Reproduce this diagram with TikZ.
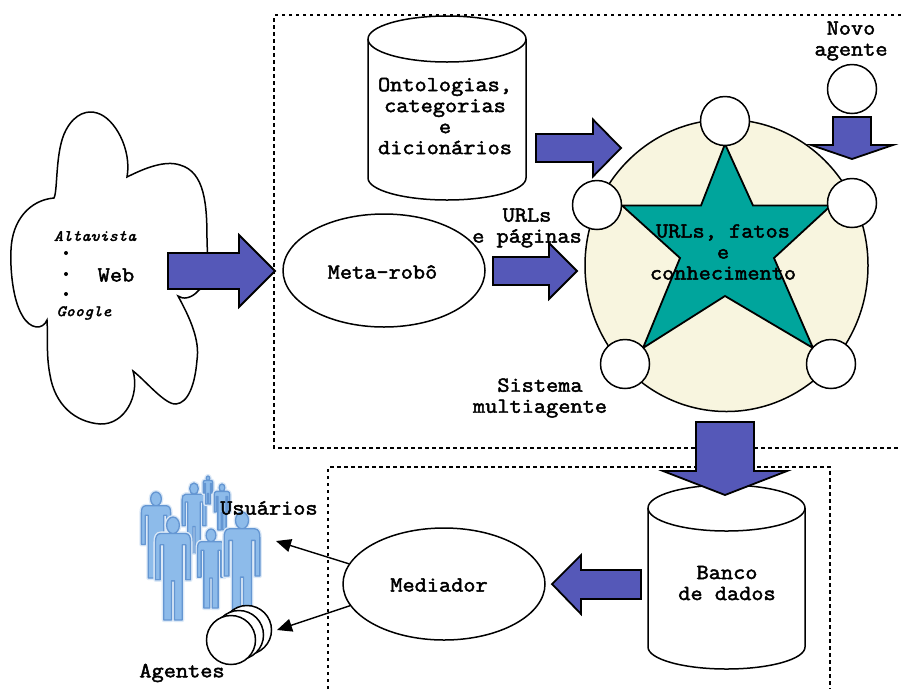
\documentclass[tikz,border=0pt]{standalone}
\usepackage{fontspec}
\setmonofont[FakeBold=2.2,FakeStretch=1.1]{Latin Modern Mono}
\usetikzlibrary{arrows.meta,shapes.geometric}
\definecolor{blockblue}{HTML}{5558B8}
\definecolor{cream}{HTML}{F8F5DF}
\definecolor{tealstar}{HTML}{00A59C}
\definecolor{personfill}{HTML}{8DBBEA}
\definecolor{personline}{HTML}{6496D2}
\definecolor{personhalo}{HTML}{DCE9F7}
\tikzset{
  line/.style={draw=black,line width=1.5pt},
  block/.style={draw=black,line width=1.8pt,fill=blockblue,miter limit=10},
  agentc/.style={circle,draw=black,line width=1.5pt,fill=white,minimum size=49pt,inner sep=0pt},
  oval/.style={ellipse,draw=black,line width=1.5pt,fill=white,inner sep=0pt},
  lab/.style={font=\ttfamily\fontsize{21.5}{21}\selectfont,align=center,inner sep=0pt},
  smalllab/.style={font=\ttfamily\itshape\fontsize{15.8}{18}\selectfont,inner sep=0pt},
  dbox/.style={draw=black,line width=1.6pt,dash pattern=on 3.5pt off 3.5pt},
  conn/.style={draw=black,line width=1.4pt,-{Triangle[length=15pt,width=13pt]}},
  bodyshape/.style={line join=round,line width=1.3pt,draw=personline,fill=personfill}
}
\newcommand{\rblock}[6]{\path[block] (#1,#4-#5) -- (#3,#4-#5) -- (#3,#4-#6) -- (#2,#4) -- (#3,#4+#6) -- (#3,#4+#5) -- (#1,#4+#5) -- cycle;}
\newcommand{\dblock}[6]{\path[block] (#4-#5,#1) -- (#4-#5,#3) -- (#4-#6,#3) -- (#4,#2) -- (#4+#6,#3) -- (#4+#5,#3) -- (#4+#5,#1) -- cycle;}
\newcommand{\cyl}[4]{\path[line,fill=white] (#1-#2,#3) -- (#1-#2,#4) arc[start angle=180,end angle=0,x radius=#2,y radius=22] -- (#1+#2,#3) arc[start angle=0,end angle=-180,x radius=#2,y radius=23] -- cycle;
 \path[line] (#1-#2,#3) arc[start angle=180,end angle=0,x radius=#2,y radius=23];}
\newcommand{\personpath}{(-.06,.16) -- (-.12,.16) .. controls (-.16,.16) and (-.17,.2) .. (-.17,.24) -- (-.17,.61) -- (-.125,.61) -- (-.125,.27) -- (-.09,.27) -- (-.09,1) -- (-.015,1) -- (-.015,.62) -- (.015,.62) -- (.015,1) -- (.09,1) -- (.09,.27) -- (.125,.27) -- (.125,.61) -- (.17,.61) -- (.17,.24) .. controls (.17,.2) and (.16,.16) .. (.12,.16) -- (.06,.16) -- cycle (0,.08) ellipse[x radius=.062,y radius=.08]}
\newcommand{\person}[3]{\begin{scope}[shift={(#1,#2)},x=#3pt,y=-#3pt]
 \path[draw=personhalo,line width=4pt,line join=round] \personpath;
 \path[bodyshape] \personpath;
 \end{scope}}
\begin{document}
\begin{tikzpicture}[x=1pt,y=-1pt]
\useasboundingbox (0,0) rectangle (901,689);
\fill[white] (0,0) rectangle (901,689);
% dashed frames
\draw[dbox] (901,15) -- (274,15) -- (274,448) -- (901,448);
\draw[dbox] (328,689) -- (328,467) -- (830,467) -- (830,689);
% cloud
\path[line,fill=white] (54,198) .. controls (58,190) and (55,150) .. (66,130)
 .. controls (75,113) and (88,110) .. (97,113)
 .. controls (115,118) and (132,150) .. (127,177)
 .. controls (145,168) and (165,160) .. (180,165)
 .. controls (205,172) and (207,205) .. (207,240)
 .. controls (208,265) and (208,285) .. (198,291)
 .. controls (192,298) and (183,300) .. (178,296)
 .. controls (190,318) and (200,340) .. (197,360)
 .. controls (195,385) and (188,403) .. (176,404)
 .. controls (165,405) and (145,380) .. (133,371)
 .. controls (140,395) and (125,425) .. (100,424)
 .. controls (75,422) and (55,405) .. (50,375)
 .. controls (46,355) and (48,335) .. (47,320)
 .. controls (43,330) and (30,330) .. (22,315)
 .. controls (13,300) and (10,270) .. (11,250)
 .. controls (12,220) and (30,200) .. (54,198) -- cycle;
\node[smalllab] (alta) at (95,236) {Altavista};
\node[smalllab] (goog) at (84,313) {Google};
\node[lab] (web) at (116,275) {Web};
\foreach \yy in {253,274,294} \fill (66,\yy) circle[radius=2];
\rblock{168}{275}{239}{271}{18}{36}
% ontology cylinder
\cyl{447}{79}{39}{178}
\node[lab] (ont) at (445,116) {Ontologias,\\categorias\\e\\dicionários};
\rblock{536}{621}{593}{148}{14}{28.5}
% meta-robot
\node[oval,minimum width=202pt,minimum height=113pt] (meta) at (384,270.5) {};
\node[lab] at (382.5,272) {Meta-robô};
\node[lab] (urls) at (527,228) {URLs\\e páginas};
\rblock{493}{577}{549}{271}{14}{28}
% multi-agent
\node[ellipse,draw=black,line width=1.5pt,fill=cream,minimum width=283pt,minimum height=292pt,inner sep=0pt] (mas) at (726.5,265.5) {};
\path[draw=black,line width=1.8pt,fill=tealstar,miter limit=10] (725,144) -- (753,205.5) -- (831,205.5) -- (774,258) -- (813,348) -- (725,296) -- (643,348) -- (680,258) -- (622,205.5) -- (701,205.5) -- cycle;
\node[lab] (know) at (723,252) {URLs, fatos\\e\\conhecimento};
\node[agentc] (a1) at (725,121) {};
\node[agentc] (a2) at (597,205) {};
\node[agentc] (a3) at (852,203) {};
\node[agentc] (a4) at (625,364) {};
\node[agentc] (a5) at (831,364) {};
\node[agentc] (a6) at (852,89) {};
\node[lab] (novo) at (851,41) {Novo\\agente};
\dblock{117}{159}{145}{852}{19}{41}
\node[lab] (sis) at (540,398) {Sistema\\multiagente};
% database
\cyl{726.5}{78.5}{508}{647}
\dblock{422}{495}{471}{725}{29}{62}
\node[lab] (bd) at (727,583) {Banco\\de dados};
\path[block] (641,570) -- (581,570) -- (581,555) -- (552,584) -- (581,614) -- (581,599) -- (641,599) -- cycle;
% mediator
\node[oval,minimum width=202pt,minimum height=112pt] (med) at (444,584) {};
\node[lab] at (439,585) {Mediador};
% people
\person{156}{492}{86}
\person{194}{483}{70}
\person{208}{476}{28}
\person{222}{484}{46}
\person{173}{517}{103}
\person{211}{529}{79}
\person{242}{512}{105}
% agents stack
\node[agentc] (s3) at (247,630) {};
\node[agentc] (s2) at (239,635) {};
\node[agentc] (s1) at (231,640) {};
\coordinate (uend) at (276,541);
\coordinate (aend) at (277,630);
\draw[conn] (med.168) -- (uend);
\draw[conn] (med.193) -- (aend);
\node[lab,anchor=west] (usu) at (220,508) {Usuários};
\node[lab] (ag) at (182,673) {Agentes};
\end{tikzpicture}
\end{document}
